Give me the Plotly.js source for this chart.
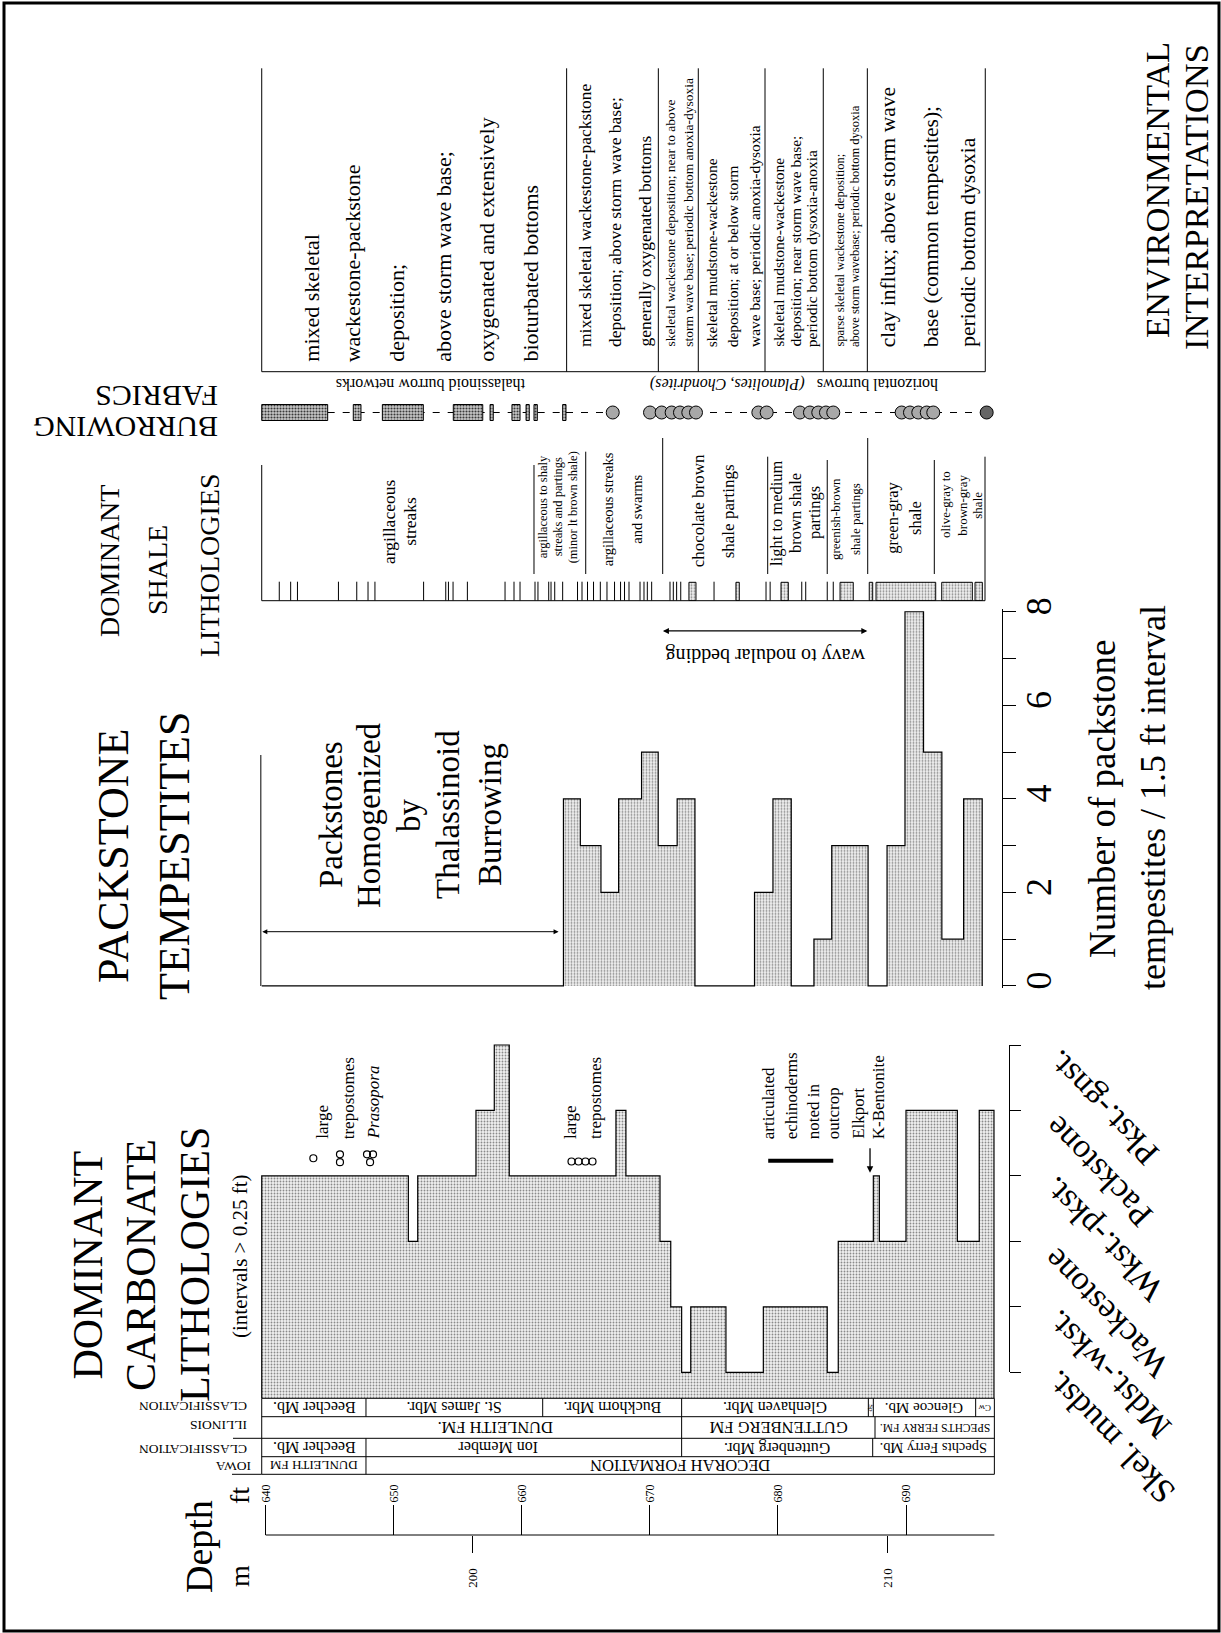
<!DOCTYPE html>
<html><head><meta charset="utf-8">
<script src="https://cdn.plot.ly/plotly-3.0.1.min.js"></script>
<style>html,body{margin:0;padding:0;background:#fff}#chart{width:1221px;height:1633px}</style>
</head><body><div id="chart"></div>
<script>
// ================= DATA =================
const depthTicksFt = [640, 650, 660, 670, 680, 690];
const depthTicksM = [200, 210];

// Dominant carbonate lithologies: interval tops (ft) and lithology level
const carbLevelNames = ['Skel. mudst.', 'Mdst.-wkst.', 'Wackestone', 'Wkst.-pkst.', 'Packstone', 'Pkst.-gnst.'];
const carbLevelValues = [1, 2, 3, 4, 5, 6];
const carbTop = [639.69, 651.14, 651.87, 656.42, 657.85, 659.02, 667.35, 668.13, 670.79, 671.63, 672.48,
                 673.19, 675.94, 678.86, 683.85, 684.71, 687.45, 687.92, 690.00, 694.01, 695.72];
const carbLevel = [4, 3, 4, 5, 6, 4, 5, 4, 3, 2, 1, 2, 1, 2, 1, 3, 4, 3, 5, 3, 5];
const carbEnd = 696.87;

// Fossil symbols and notes in the carbonate column
const trepoDepth = [643.72, 645.80, 645.80, 647.91, 648.38, 648.15, 663.88, 664.43, 664.97, 665.52];
const trepoLevel = [4.27, 4.33, 4.21, 4.33, 4.33, 4.21, 4.22, 4.22, 4.22, 4.22];
const echinoDepth = [679.24, 684.32];
const echinoLevel = [4.23, 4.23];
const bentoniteDepth = 687.19;
const bentoniteLevel = 4.05;

// Packstone tempestites per 1.5 ft interval
const packTop   = [663.25, 664.57, 666.18, 667.56, 669.35, 670.65, 672.13, 678.17, 679.61, 682.81, 684.20, 688.52, 689.92, 691.37, 692.80, 694.50];
const packBase  = [664.57, 666.18, 667.56, 669.35, 670.65, 672.13, 673.52, 679.61, 681.04, 684.20, 687.04, 689.92, 691.37, 692.80, 694.50, 695.95];
const packCount = [4, 3, 2, 4, 5, 3, 4, 2, 4, 1, 3, 3, 8, 5, 1, 4];
const homogenizedFrom = 639.62, homogenizedTo = 662.87;
const wavyFrom = 670.90, wavyTo = 686.98;

// Dominant shale lithologies: thin streaks and shale intervals
const shaleStreaks = [641.06, 641.95, 642.48, 645.68, 647.11, 647.99, 648.53, 652.33, 654.06, 654.27, 654.63, 655.75,
  658.69, 659.39, 659.86, 661.03, 661.26, 662.10, 662.28, 662.57, 663.19, 664.35, 664.70, 665.13, 665.60, 666.13,
  666.65, 667.24, 667.71, 668.02, 668.37, 669.23, 669.54, 669.80, 670.14, 671.57, 671.83, 672.09, 672.41, 675.01,
  679.07, 679.39, 681.86, 682.17, 683.85, 684.32];
const shaleBoxTop  = [673.05, 676.72, 680.24, 684.85, 687.13, 687.66, 692.79, 695.39];
const shaleBoxBase = [673.60, 676.98, 680.81, 685.88, 687.40, 692.32, 695.18, 695.96];
const shaleDividers = [660.95, 664.99, 671.00, 679.20, 683.85, 687.01, 692.21];
const shaleSections = [
  ['argillaceous', 'streaks'],
  ['argillaceous to shaly', 'streaks and partings', '(minor lt brown shale)'],
  ['argillaceous streaks', 'and swarms'],
  ['chocolate brown', 'shale partings'],
  ['light to medium', 'brown shale', 'partings'],
  ['greenish-brown', 'shale partings'],
  ['green-gray', 'shale'],
  ['olive-gray to', 'brown-gray', 'shale']
];

// Burrowing fabrics
const burrowBoxTop  = [639.69, 646.84, 649.11, 654.65, 657.52, 659.23, 660.33, 660.95, 663.19];
const burrowBoxBase = [644.84, 647.44, 652.31, 656.95, 657.77, 659.86, 660.58, 661.21, 663.45];
const burrowCircles = [667.10, 670.01, 670.92, 671.70, 672.35, 673.00, 673.60, 678.47, 679.12, 681.72, 682.50,
  683.15, 683.75, 684.32, 689.66, 690.31, 690.96, 691.62, 692.13, 696.30];

// Environmental interpretations
const envDividers = [663.50, 670.66, 673.78, 678.99, 683.54, 686.98];
const envSections = [
  ['mixed skeletal', 'wackestone-packstone', 'deposition;', 'above storm wave base;', 'oxygenated and extensively', 'bioturbated bottoms'],
  ['mixed skeletal wackestone-packstone', 'deposition; above storm wave base;', 'generally oxygenated bottoms'],
  ['skeletal wackestone deposition; near to above', 'storm wave base; periodic bottom anoxia-dysoxia'],
  ['skeletal mudstone-wackestone', 'deposition; at or below storm', 'wave base; periodic anoxia-dysoxia'],
  ['skeletal mudstone-wackestone', 'deposition; near storm wave base;', 'periodic bottom dysoxia-anoxia'],
  ['sparse skeletal wackestone deposition;', 'above storm wavebase; periodic bottom dysoxia'],
  ['clay influx; above storm wave', 'base (common tempestites);', 'periodic bottom dysoxia']
];

// Stratigraphic classification
const illMbrNames = ['Beecher Mb.', 'St. James Mbr.', 'Buckhorn Mbr.', 'Glenhaven Mbr.', 'Sp', 'Glencoe Mb.', 'Cw'];
const illMbrBounds = [639.69, 647.83, 661.63, 672.48, 687.06, 687.45, 695.44, 696.90];
const illFmNames = ['DUNLEITH FM.', 'GUTTENBERG FM', 'SPECHTS FERRY FM.'];
const illFmBounds = [639.69, 672.48, 687.58, 696.90];
const iowaMbrNames = ['Beecher Mb.', 'Ion Member', 'Guttenberg Mbr.', 'Spechts Ferry Mb.'];
const iowaMbrBounds = [639.69, 647.83, 672.48, 687.40, 696.90];
const iowaFmNames = ['DUNLEITH FM', 'DECORAH FORMATION'];
const iowaFmBounds = [639.69, 647.83, 696.90];

// ================= LAYOUT HELPERS =================
const W = 1221, H = 1633;
const px = v => v / W;
const py = v => 1 - v / H;
const FONT = '"Liberation Serif", "Times New Roman", serif';
const X0PX = 258, X1PX = 998, FT_PX0 = 265.7, PX_PER_FT = 12.806;
const ftRange = [640 + (X0PX - FT_PX0) / PX_PER_FT, 640 + (X1PX - FT_PX0) / PX_PER_FT];
const M200PX = 472.7, PX_PER_M = 41.5;
const mRange = [200 + (X0PX - M200PX) / PX_PER_M, 200 + (X1PX - M200PX) / PX_PER_M];
const d2px = d => FT_PX0 + (d - 640) * PX_PER_FT;
const panelLeft = carbTop[0];

const STIPPLE = {shape: '.', bgcolor: '#f0f0f0', fgcolor: '#8a8a8a', size: 3, solidity: 0.3};
const STIPPLE_DARK = {shape: '.', bgcolor: '#c8c8c8', fgcolor: '#3a3a3a', size: 3, solidity: 0.4};

const annotations = [];
function T(text, x, y, size, angle, extra) {
  annotations.push(Object.assign({
    text: text, xref: 'paper', yref: 'paper', x: px(x), y: py(y), showarrow: false,
    textangle: angle || 0, xanchor: 'center', yanchor: 'middle', borderpad: 0,
    font: {family: FONT, size: size, color: '#000'}
  }, extra || {}));
}
const shapes = [];
function L(x0, y0, x1, y1, xref, w) {
  shapes.push({type: 'line', xref: xref || 'x', yref: 'paper', x0: x0, x1: x1, y0: py(y0), y1: py(y1),
    line: {color: '#000', width: w || 1}});
}

// ================= TRACES =================
const traces = [];
const cX = [carbTop[0]], cY = [0];
carbTop.forEach((d, i) => { cX.push(d); cY.push(carbLevel[i]); });
cX.push(carbEnd, carbEnd); cY.push(carbLevel[carbLevel.length - 1], 0);
traces.push({type: 'scatter', x: cX, y: cY, xaxis: 'x', yaxis: 'y', mode: 'lines',
  line: {shape: 'hv', color: '#000', width: 1.2}, fill: 'tozeroy', fillcolor: '#dcdcdc', fillpattern: STIPPLE});
traces.push({type: 'scatter', x: trepoDepth, y: trepoLevel, xaxis: 'x', yaxis: 'y', mode: 'markers',
  marker: {symbol: 'circle-open', size: 7, color: '#000', line: {width: 1.2}}});
traces.push({type: 'scatter', x: echinoDepth, y: echinoLevel, xaxis: 'x', yaxis: 'y', mode: 'lines',
  line: {color: '#000', width: 4}});
traces.push({type: 'scatter', x: [650], y: [-5], xaxis: 'x', yaxis: 'y5', mode: 'markers', marker: {opacity: 0}});
traces.push({type: 'scatter', x: [200], y: [-5], xaxis: 'x2', yaxis: 'y', mode: 'markers', marker: {opacity: 0}});

const pX = [panelLeft], pY = [0];
packTop.forEach((t, i) => {
  if (i === 0 || t !== packBase[i - 1]) { pX.push(t); pY.push(0); }
  pX.push(t, packBase[i]); pY.push(packCount[i], packCount[i]);
  if (i === packTop.length - 1 || packTop[i + 1] !== packBase[i]) { pX.push(packBase[i]); pY.push(0); }
});
traces.push({type: 'scatter', x: pX, y: pY, xaxis: 'x', yaxis: 'y2', mode: 'lines',
  line: {color: '#000', width: 1.2}, fill: 'tozeroy', fillcolor: '#e0e0e0', fillpattern: STIPPLE});

const sX = [], sY = [];
shaleStreaks.forEach(d => { sX.push(d, d, null); sY.push(0, 19, null); });
traces.push({type: 'scatter', x: sX, y: sY, xaxis: 'x', yaxis: 'y3', mode: 'lines', line: {color: '#000', width: 1}});
const sbX = [], sbY = [];
shaleBoxTop.forEach((t, i) => { const b = shaleBoxBase[i]; sbX.push(t, t, b, b, t, null); sbY.push(0, 18.4, 18.4, 0, 0, null); });
traces.push({type: 'scatter', x: sbX, y: sbY, xaxis: 'x', yaxis: 'y3', mode: 'lines', line: {color: '#000', width: 1},
  fill: 'toself', fillcolor: '#e6e6e6', fillpattern: STIPPLE});

traces.push({type: 'scatter', x: [burrowBoxBase[0], burrowBoxTop[burrowBoxTop.length - 1], null, burrowBoxBase[burrowBoxBase.length - 1], burrowCircles[0], null, burrowCircles[1], burrowCircles[burrowCircles.length - 1]],
  y: [0, 0, null, 0, 0, null, 0, 0], xaxis: 'x', yaxis: 'y4', mode: 'lines', connectgaps: false,
  line: {color: '#000', width: 1, dash: '7px,8px'}});
const bbX = [], bbY = [];
burrowBoxTop.forEach((t, i) => { const b = burrowBoxBase[i]; bbX.push(t, t, b, b, t, null); bbY.push(-8, 8, 8, -8, -8, null); });
traces.push({type: 'scatter', x: bbX, y: bbY, xaxis: 'x', yaxis: 'y4', mode: 'lines', line: {color: '#000', width: 1},
  fill: 'toself', fillcolor: '#b0b0b0', fillpattern: STIPPLE_DARK});
traces.push({type: 'scatter', x: burrowCircles, y: burrowCircles.map(() => 0), xaxis: 'x', yaxis: 'y4', mode: 'markers',
  marker: {size: 13, color: burrowCircles.map((d, i) => i === burrowCircles.length - 1 ? '#666' : '#a8a8a8'),
  line: {color: '#000', width: 1}}});

// ================= FRAMES / LINES =================
shapes.push({type: 'rect', xref: 'paper', yref: 'paper', x0: px(4), x1: px(1219), y0: py(3), y1: py(1631),
  line: {color: '#000', width: 3}});
L(640, 1535, 696.9, 1535);
const rowY = [1398.3, 1416.7, 1438.3, 1456.7, 1474.3];
rowY.forEach(y => L(panelLeft, y, 696.90, y));
L(panelLeft, 1398.3, panelLeft, 1474.3); L(696.90, 1398.3, 696.90, 1474.3);
L(px(233), 1438.3, px(261.7), 1438.3, 'paper');
L(px(232), 1474.3, px(261.7), 1474.3, 'paper');
const rows = [
  {names: illMbrNames, b: illMbrBounds, y0: 1398.3, y1: 1416.7, size: 16},
  {names: illFmNames, b: illFmBounds, y0: 1416.7, y1: 1438.3, size: 16.5},
  {names: iowaMbrNames, b: iowaMbrBounds, y0: 1438.3, y1: 1456.7, size: 16},
  {names: iowaFmNames, b: iowaFmBounds, y0: 1456.7, y1: 1474.3, size: 16.5}
];
const smallNames = {'Sp': 7, 'Cw': 9, 'SPECHTS FERRY FM.': 11.5, 'Spechts Ferry Mb.': 14.5, 'Glencoe Mb.': 15, 'DUNLEITH FM': 13};
const labelPx = {'DUNLEITH FM.': 495, 'Ion Member': 498};
rows.forEach(r => {
  r.b.slice(1, -1).forEach(d => L(d, r.y0, d, r.y1));
  r.names.forEach((n, i) => {
    const cx = labelPx[n] || (d2px(r.b[i]) + d2px(r.b[i + 1])) / 2;
    T(n, cx, (r.y0 + r.y1) / 2 + 0.5, smallNames[n] || r.size, n === 'Sp' ? 90 : 180);
  });
});
T('CLASSIFICATION', 248, 1407, 13.5, 180, {xanchor: 'right'});
T('ILLINOIS', 248, 1426, 13.5, 180, {xanchor: 'right'});
T('CLASSIFICATION', 248, 1450, 13.5, 180, {xanchor: 'right'});
T('IOWA', 252, 1467, 13.5, 180, {xanchor: 'right'});

L(homogenizedFrom, 986, homogenizedFrom, 755);
L(panelLeft, 600.7, 696.17, 600.7);
L(panelLeft, 465, panelLeft, 600.7);
L(696.17, 456.7, 696.17, 600.7);
const shaleDivTopPx = [465, 451.7, 438, 456.7, 460, 438, 460];
shaleDividers.forEach((d, i) => L(d, shaleDivTopPx[i], d, 574));
L(panelLeft, 68.3, panelLeft, 371.7);
L(panelLeft, 371.7, 696.19, 371.7);
envDividers.concat([696.19]).forEach(d => L(d, 68.3, d, 371.7));

// ================= TEXT =================
T('Depth', 199, 1546, 38, -90);
T('ft', 239, 1496, 28, -90);
T('m', 239, 1576, 28, -90);
T('DOMINANT', 87.5, 1265, 42, -90);
T('CARBONATE', 141, 1265, 42, -90);
T('LITHOLOGIES', 195, 1265, 42, -90);
T('(intervals &gt; 0.25 ft)', 240, 1256, 21, -90);
[['large', 321.7], ['trepostomes', 348.3], ['<i>Prasopora</i>', 373.3], ['large', 570], ['trepostomes', 595],
 ['articulated', 768.3], ['echinoderms', 791.7], ['noted in', 813.3], ['outcrop', 833.3], ['Elkport', 858.3], ['K-Bentonite', 878.3]]
  .forEach(a => T(a[0], a[1], 1140, 17, -90, {yanchor: 'bottom'}));
annotations.push({xref: 'x', yref: 'y', x: bentoniteDepth, y: bentoniteLevel, ax: 0, ay: -26, text: '',
  showarrow: true, arrowhead: 2, arrowsize: 1, arrowwidth: 1.3, arrowcolor: '#000', standoff: 0});
const diagCenters = [[1110, 1438], [1108, 1375], [1106, 1314], [1103, 1240], [1098, 1172], [1102, 1108]];
carbLevelNames.forEach((n, i) => T(n, diagCenters[i][0], diagCenters[i][1], 34, -134));

T('PACKSTONE', 113, 856, 44, -90);
T('TEMPESTITES', 174, 856, 44, -90);
['Packstones', 'Homogenized', 'by', 'Thalassinoid', 'Burrowing'].forEach((t, i) =>
  T(t, [331, 369, 409, 448, 490][i], 815, 33, -90));
annotations.push({xref: 'x', yref: 'y2', x: homogenizedTo, y: 1.16, axref: 'x', ayref: 'y2', ax: homogenizedFrom, ay: 1.16,
  text: '', showarrow: true, arrowhead: 2, arrowside: 'end+start', arrowsize: 1, arrowwidth: 1, arrowcolor: '#000', standoff: 0, startstandoff: 0});
annotations.push({xref: 'x', yref: 'y2', x: wavyTo, y: 7.59, axref: 'x', ayref: 'y2', ax: wavyFrom, ay: 7.59,
  text: '', showarrow: true, arrowhead: 2, arrowside: 'end+start', arrowsize: 1, arrowwidth: 1.2, arrowcolor: '#000', standoff: 0, startstandoff: 0});
T('wavy to nodular bedding', 766, 655, 20, 180);
T('Number of packstone', 1103, 799, 37, -90);
T('tempestites / 1.5 ft interval', 1153, 798, 36, -90);

T('DOMINANT', 109, 561, 28, -90);
T('SHALE', 157, 570, 28, -90);
T('LITHOLOGIES', 209, 565, 28, -90);
const shaleTextX = [[388.3, 410], [543.3, 558.3, 573.3], [608.3, 636.7], [698.3, 728.3], [776, 795, 814], [835, 855], [891.7, 915], [945, 961.7, 976.7]];
const shaleTextY = [521.7, 507, 509, 511, 513, 519, 518, 505];
const shaleTextSize = [17.5, 12.5, 14.5, 17, 16.5, 13, 16.5, 13];
shaleSections.forEach((lines, s) => lines.forEach((t, i) => T(t, shaleTextX[s][i], shaleTextY[s], shaleTextSize[s], -90)));

T('BURROWING', 219, 427, 30, 180, {xanchor: 'right'});
T('FABRICS', 219, 396, 30, 180, {xanchor: 'right'});
T('thalassinoid burrow networks', 431, 385, 16, 180);
T('horizontal burrows &nbsp;&nbsp;<i>(Planolites, Chondrites)</i>', 794, 384, 16, 180);

T('ENVIRONMENTAL', 1157, 190, 34.5, -90);
T('INTERPRETATIONS', 1196, 197, 34.5, -90);
const envTextX = [[311.7, 353.3, 396.7, 443.3, 486.7, 530], [585, 615, 645], [670, 688.3], [711.7, 733.3, 755],
  [778.3, 795, 811.7], [840, 855], [888.3, 931.7, 968.3]];
const envTextBottom = [363, 348, 348, 348, 348, 348, 348];
const envTextSize = [22, 17.5, 13.5, 15.5, 15.5, 12.5, 21.5];
envSections.forEach((lines, s) => lines.forEach((t, i) =>
  T(t, envTextX[s][i], envTextBottom[s], envTextSize[s], -90, {yanchor: 'bottom'})));

// ================= LAYOUT =================
const hide = {visible: false, showgrid: false, zeroline: false, fixedrange: true};
const layout = {
  width: W, height: H, margin: {l: 0, r: 0, t: 0, b: 0},
  paper_bgcolor: '#fff', plot_bgcolor: 'rgba(0,0,0,0)', showlegend: false, hovermode: false,
  font: {family: FONT, color: '#000'},
  xaxis: {domain: [px(X0PX), px(X1PX)], range: ftRange, anchor: 'free', position: py(1535), side: 'top',
    showline: false, showgrid: false, zeroline: false, ticks: 'outside', ticklen: 30, tickwidth: 1, tickcolor: '#000',
    tickmode: 'array', tickvals: depthTicksFt, ticktext: depthTicksFt.map(String), tickangle: -90,
    tickfont: {family: FONT, size: 12, color: '#000'}},
  xaxis2: {overlaying: 'x', range: mRange, anchor: 'free', position: py(1535), side: 'bottom',
    showline: false, showgrid: false, zeroline: false, ticks: 'outside', ticklen: 17, tickwidth: 1, tickcolor: '#000',
    tickmode: 'array', tickvals: depthTicksM, ticktext: depthTicksM.map(String), tickangle: -90, ticklabelstandoff: 10,
    tickfont: {family: FONT, size: 13, color: '#000'}},
  yaxis: Object.assign({domain: [py(1398.3), py(1000)], range: [0.6028, 6.6875], anchor: 'x'}, hide),
  yaxis2: {domain: [py(988.3), py(609.4)], range: [-0.05, 8.05], anchor: 'free', position: px(1002), side: 'right',
    showline: true, linecolor: '#000', linewidth: 1, showgrid: false, zeroline: false, ticks: 'outside', ticklen: 13,
    tickwidth: 1, tickcolor: '#000', tickmode: 'array', tickvals: [0, 1, 2, 3, 4, 5, 6, 7, 8],
    ticktext: ['0', '', '2', '', '4', '', '6', '', '8'], tickangle: -90, ticklabelstandoff: -8,
    tickfont: {family: FONT, size: 36, color: '#000'}},
  yaxis3: Object.assign({domain: [py(600.7), py(559.7)], range: [0, 41], anchor: 'x'}, hide),
  yaxis4: Object.assign({domain: [py(430), py(395)], range: [-17.5, 17.5], anchor: 'x'}, hide),
  yaxis5: {domain: [py(1372.3), py(1045)], range: [1, 6], anchor: 'free', position: px(1009), side: 'right',
    showline: true, linecolor: '#000', linewidth: 1, showgrid: false, zeroline: false, ticks: 'outside', ticklen: 11,
    tickwidth: 1, tickcolor: '#000', tickmode: 'array', tickvals: carbLevelValues, showticklabels: false},
  annotations: annotations,
  shapes: shapes
};
Plotly.newPlot('chart', traces, layout, {staticPlot: true, displayModeBar: false});
</script>
</body></html>
